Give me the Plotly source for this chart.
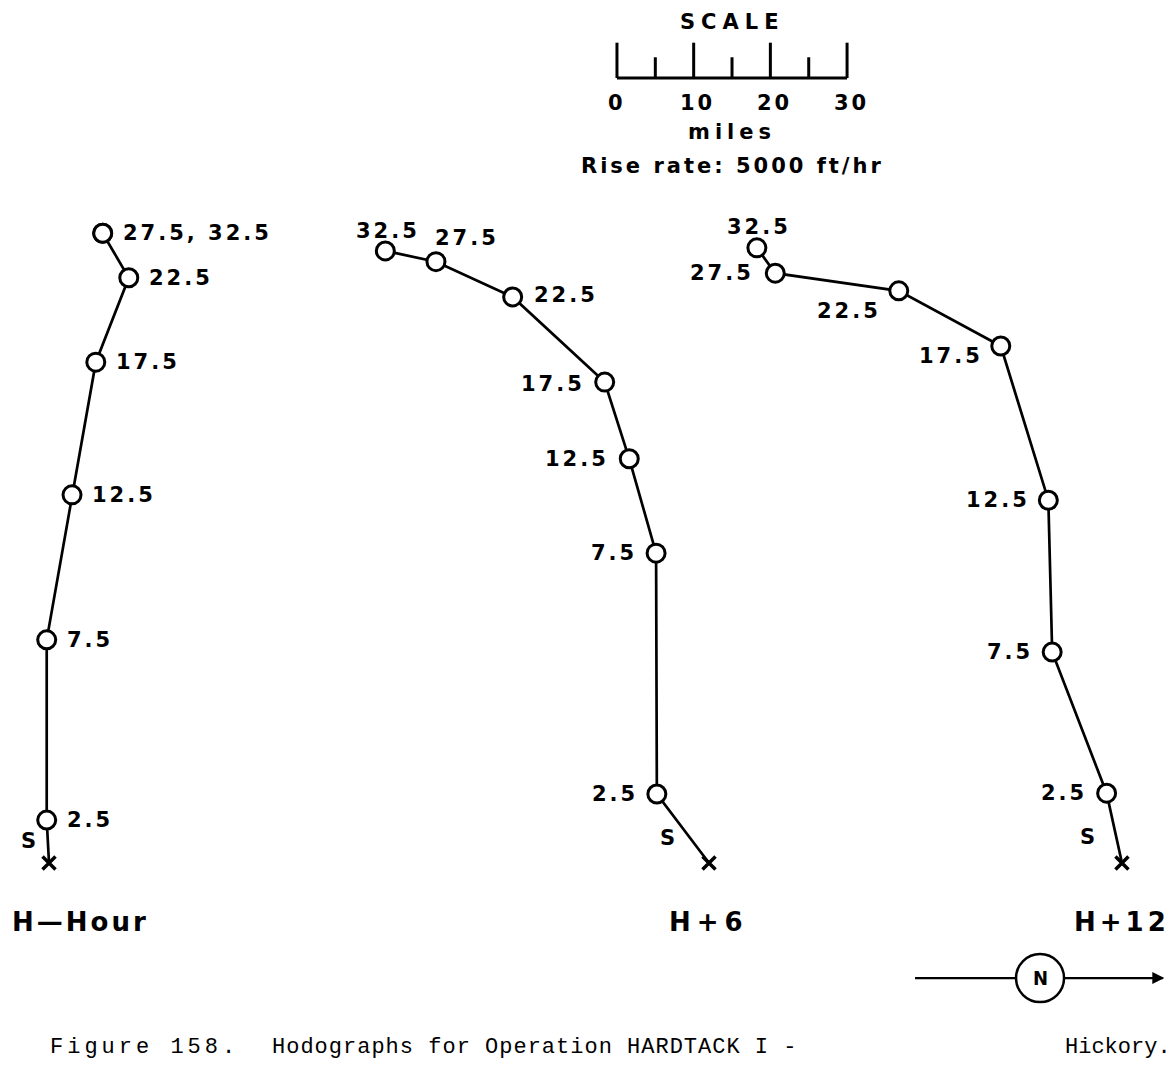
import plotly.graph_objects as go

# ---------------- data (miles, relative to the surface point "X" of each hodograph) -------------
altitudes = [2.5, 7.5, 12.5, 17.5, 22.5, 27.5, 32.5]   # thousand ft

hhour_dx = [-0.3, -0.3, 3.0, 6.1, 10.4, 7.0, 7.0]
hhour_dy = [5.6, 29.1, 48.0, 65.3, 76.3, 82.1, 82.1]
hhour_labels = ["2.5", "7.5", "12.5", "17.5", "22.5", "27.5, 32.5", ""]

h6_dx = [-6.8, -6.9, -10.4, -13.6, -25.6, -35.6, -42.2]
h6_dy = [9.0, 40.4, 52.7, 62.7, 73.8, 78.4, 79.8]
h6_labels = ["2.5", "7.5", "12.5", "17.5", "22.5", "27.5", "32.5"]

h12_dx = [-2.0, -9.1, -9.6, -15.8, -29.1, -45.2, -47.6]
h12_dy = [9.1, 27.5, 47.3, 67.4, 74.6, 76.9, 80.2]
h12_labels = ["2.5", "7.5", "12.5", "17.5", "22.5", "27.5", "32.5"]

panel_titles = ["H\u2014Hour", "H+6", "H+12"]

scale_ticks = [0, 5, 10, 15, 20, 25, 30]            # miles
scale_tick_labels = ["0", "10", "20", "30"]
scale_label_values = [0, 10, 20, 30]

# ---------------- layout geometry ---------------------------------------------------------------
PX_PER_MI = 7.67
W, H = 1174, 1069
ORIGIN_PY = 863
X_RANGE = [0, W / PX_PER_MI]
Y_RANGE = [-(H - ORIGIN_PY) / PX_PER_MI, ORIGIN_PY / PX_PER_MI]

panel_origin_x = [6.39, 92.44, 146.28]

# label placement: (xanchor, xshift px, yshift px)
place_hhour = [("left", 18, 0)] * 7
place_h6 = [("right", -17, 0), ("right", -17, 0), ("right", -18, 0), ("right", -18, -2),
            ("left", 19, 2), ("center", 31, 24), ("center", 3, 20)]
place_h12 = [("right", -18, 0), ("right", -17, 0), ("right", -16, 0), ("right", -16, -10),
             ("center", -50, -20), ("right", -19, 0), ("center", 2, 21)]
s_shift = [(-21, 22), (-42, 25), (-34, 26)]
title_shift = [31, 0, 0]
title_spacing = [3, 6, 4]
TITLE_Y = -7.7

LABEL_FONT = dict(family="DejaVu Sans", size=21, color="black", weight="bold")
TITLE_FONT = dict(family="DejaVu Sans", size=26, color="black", weight="bold")

def spaced(t, px=2):
    return f'<span style="letter-spacing:{px}px">{t}</span>' if t else t

fig = go.Figure()
annotations = []

panels = [
    (hhour_dx, hhour_dy, hhour_labels, place_hhour),
    (h6_dx, h6_dy, h6_labels, place_h6),
    (h12_dx, h12_dy, h12_labels, place_h12),
]

for i, (dx, dy, labels, place) in enumerate(panels):
    ox = panel_origin_x[i]
    xs = [ox] + [ox + v for v in dx]
    ys = [0.0] + list(dy)
    fig.add_trace(go.Scatter(x=xs, y=ys, mode="lines",
                             line=dict(color="black", width=2.7), hoverinfo="skip"))
    fig.add_trace(go.Scatter(x=xs[1:], y=ys[1:], mode="markers",
                             marker=dict(symbol="circle", size=18, color="white",
                                         line=dict(color="black", width=3)),
                             text=[str(a) for a in altitudes], hoverinfo="text"))
    fig.add_trace(go.Scatter(x=[ox], y=[0.0], mode="markers",
                             marker=dict(symbol="x-thin", size=13,
                                         line=dict(color="black", width=3.5)),
                             hoverinfo="skip"))
    for lab, x, y, (xa, xsh, ysh) in zip(labels, xs[1:], ys[1:], place):
        if not lab:
            continue
        annotations.append(dict(x=x, y=y, xref="x", yref="y", text=spaced(lab, 3),
                                showarrow=False, xanchor=xa, yanchor="middle",
                                xshift=xsh, yshift=ysh, font=LABEL_FONT))
    annotations.append(dict(x=ox, y=0, xref="x", yref="y", text="S", showarrow=False,
                            xanchor="center", yanchor="middle",
                            xshift=s_shift[i][0], yshift=s_shift[i][1], font=LABEL_FONT))
    annotations.append(dict(x=ox, y=TITLE_Y, xref="x", yref="y",
                            text=spaced(panel_titles[i], title_spacing[i]),
                            showarrow=False, xanchor="center", yanchor="middle",
                            xshift=title_shift[i], font=TITLE_FONT))

# ---------------- scale bar ----------------------------------------------------------------------
SCALE_X0 = 80.44
SCALE_Y0 = 102.35
MAJOR_H = 4.6
MINOR_H = 2.7
sx, sy = [SCALE_X0, SCALE_X0 + scale_ticks[-1]], [SCALE_Y0, SCALE_Y0]
for t in scale_ticks:
    h = MAJOR_H if t % 10 == 0 else MINOR_H
    sx += [None, SCALE_X0 + t, SCALE_X0 + t]
    sy += [None, SCALE_Y0, SCALE_Y0 + h]
fig.add_trace(go.Scatter(x=sx, y=sy, mode="lines", line=dict(color="black", width=3),
                         hoverinfo="skip"))
for v, lab in zip(scale_label_values, scale_tick_labels):
    annotations.append(dict(x=SCALE_X0 + v, y=SCALE_Y0 - 3.3, xref="x", yref="y",
                            text=spaced(lab, 3), showarrow=False, xanchor="center",
                            yanchor="middle", xshift=4 if v else 0, font=LABEL_FONT))
scale_mid = SCALE_X0 + scale_ticks[-1] / 2
annotations.append(dict(x=scale_mid, y=SCALE_Y0 + 7.3, xref="x", yref="y",
                        text=spaced("SCALE", 6), showarrow=False, font=LABEL_FONT))
annotations.append(dict(x=scale_mid, y=SCALE_Y0 - 7.0, xref="x", yref="y",
                        text=spaced("miles", 5), showarrow=False, font=LABEL_FONT))
annotations.append(dict(x=scale_mid, y=SCALE_Y0 - 11.5, xref="x", yref="y",
                        text=spaced("Rise rate: 5000 ft/hr", 3), showarrow=False, font=LABEL_FONT))

# ---------------- north arrow --------------------------------------------------------------------
N_Y = -15.0
N_CX = 135.6
N_X0, N_X1 = 119.3, 151.6
fig.add_trace(go.Scatter(x=[N_X0, N_X1], y=[N_Y, N_Y], mode="lines",
                         line=dict(color="black", width=2.2), hoverinfo="skip"))
fig.add_trace(go.Scatter(x=[N_CX], y=[N_Y], mode="markers",
                         marker=dict(symbol="circle", size=48, color="white",
                                     line=dict(color="black", width=2.5)),
                         hoverinfo="skip"))
annotations.append(dict(x=N_X1 + 0.2, y=N_Y, ax=N_X1 - 2.5, ay=N_Y, xref="x", yref="y",
                        axref="x", ayref="y", text="", showarrow=True, arrowhead=2,
                        arrowsize=1.2, arrowwidth=2, arrowcolor="black"))
annotations.append(dict(x=N_CX, y=N_Y, xref="x", yref="y", text="N", showarrow=False,
                        font=dict(family="DejaVu Sans Condensed", size=20, color="black",
                                  weight="bold")))

# ---------------- caption ------------------------------------------------------------------------
CAP_Y = -24.0
CAP_FONT = dict(family="Liberation Mono", size=22, color="black")
annotations.append(dict(x=48 / PX_PER_MI, y=CAP_Y, xref="x", yref="y",
                        text=spaced("Figure 158.", 4),
                        showarrow=False, xanchor="left", font=CAP_FONT))
annotations.append(dict(x=270 / PX_PER_MI, y=CAP_Y, xref="x", yref="y",
                        text=spaced("Hodographs for Operation HARDTACK I -", 1),
                        showarrow=False, xanchor="left", font=CAP_FONT))
annotations.append(dict(x=1063 / PX_PER_MI, y=CAP_Y, xref="x", yref="y", text="Hickory.",
                        showarrow=False, xanchor="left", font=CAP_FONT))

fig.update_layout(
    width=W, height=H, margin=dict(l=0, r=0, t=0, b=0),
    paper_bgcolor="white", plot_bgcolor="white", showlegend=False,
    xaxis=dict(range=X_RANGE, visible=False, fixedrange=True),
    yaxis=dict(range=Y_RANGE, visible=False, fixedrange=True),
    annotations=annotations,
)

fig.write_html("out.html", config={"displayModeBar": False},
               post_script="document.body.style.margin='0';document.body.style.overflow='hidden';")
